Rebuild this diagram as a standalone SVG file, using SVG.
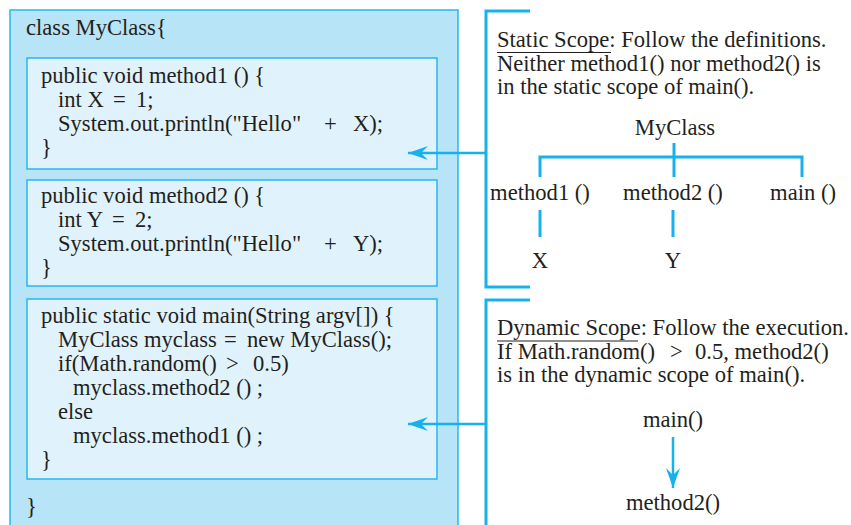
<svg xmlns="http://www.w3.org/2000/svg" width="851" height="525" viewBox="0 0 851 525">
<defs>
<style>
text{font-family:"Liberation Serif","Times New Roman",serif;font-size:22.6px;fill:#231f20}
.mid{text-anchor:middle}
.ln{stroke:#17b1ee;stroke-width:3;fill:none}
.outer{fill:#b8e4f8;stroke:#29b6f0;stroke-width:1.5}
.inner{fill:#e0f3fc;stroke:#29b6f0;stroke-width:1.5}
.ul{stroke:#231f20;stroke-width:1.2}
</style>
<marker id="ah" viewBox="0 0 20 14" refX="20" refY="7" markerWidth="20" markerHeight="14" markerUnits="userSpaceOnUse" orient="auto">
<path d="M20,7 L0,0 L7,7 L0,14 Z" fill="#17b1ee"/>
</marker>
</defs>
<g id="classbox">
<rect class="outer" x="10" y="10" width="448" height="530"/>
<text x="26" y="35">class MyClass{</text>
<text x="26" y="514">}</text>
</g>
<g id="method1">
<rect class="inner" x="27" y="58" width="410" height="111"/>
<text x="41" y="83">public void method1 () {</text>
<text x="58" y="107">int X <tspan x="113">=</tspan><tspan x="136">1;</tspan></text>
<text x="58" y="131">System.out.println("Hello"<tspan x="324">+</tspan><tspan x="353">X);</tspan></text>
<text x="41" y="155">}</text>
</g>
<g id="method2">
<rect class="inner" x="27" y="180" width="410" height="106"/>
<text x="41" y="203">public void method2 () {</text>
<text x="58" y="227">int Y <tspan x="112">=</tspan><tspan x="135">2;</tspan></text>
<text x="58" y="251">System.out.println("Hello"<tspan x="324">+</tspan><tspan x="353">Y);</tspan></text>
<text x="41" y="275">}</text>
</g>
<g id="main">
<rect class="inner" x="27" y="299" width="410" height="180"/>
<text x="41" y="323">public static void main(String argv[]) {</text>
<text x="58" y="347">MyClass myclass <tspan x="224">=</tspan><tspan x="247">new MyClass();</tspan></text>
<text x="58" y="371">if(Math.random() <tspan x="226">&gt;</tspan><tspan x="253">0.5)</tspan></text>
<text x="73" y="395">myclass.method2 () ;</text>
<text x="58" y="419">else</text>
<text x="73" y="443">myclass.method1 () ;</text>
<text x="41" y="467">}</text>
</g>
<g id="static-scope">
<text x="497" y="47">Static Scope: Follow the definitions.</text>
<line class="ul" x1="497" y1="52.5" x2="611" y2="52.5"/>
<text x="497" y="71">Neither method1() nor method2() is</text>
<text x="497" y="94">in the static scope of main().</text>
</g>
<g id="tree-myclass"><text class="mid" x="675" y="135">MyClass</text></g>
<g id="tree-method1"><text class="mid" x="540" y="200">method1 ()</text></g>
<g id="tree-method2"><text class="mid" x="673" y="200">method2 ()</text></g>
<g id="tree-main"><text class="mid" x="803" y="200">main ()</text></g>
<g id="tree-x"><text class="mid" x="540" y="268">X</text></g>
<g id="tree-y"><text class="mid" x="673" y="268">Y</text></g>
<g id="dynamic-scope">
<text x="497" y="335">Dynamic Scope: Follow the execution.</text>
<line class="ul" x1="497" y1="341" x2="638" y2="341"/>
<text x="497" y="359">If Math.random() <tspan x="670">&gt;</tspan><tspan x="695">0.5, method2()</tspan></text>
<text x="497" y="382">is in the dynamic scope of main().</text>
</g>
<g id="dyn-main"><text class="mid" x="673" y="427">main()</text></g>
<g id="dyn-method2"><text class="mid" x="673" y="510">method2()</text></g>
<g id="connectors">
<path class="ln" d="M530,11 H486 V287 H530"/>
<path class="ln" d="M530,300 H486 V530"/>
<line class="ln" x1="486" y1="153" x2="408" y2="153" marker-end="url(#ah)" style="stroke-width:2.5"/>
<line class="ln" x1="486" y1="424" x2="408" y2="424" marker-end="url(#ah)" style="stroke-width:2.5"/>
<path class="ln" d="M674,143 V177 M540,177 V157 H802 V177"/>
<line class="ln" x1="540" y1="210" x2="540" y2="237"/>
<line class="ln" x1="673" y1="210" x2="673" y2="237"/>
<line class="ln" x1="673" y1="437" x2="673" y2="488" marker-end="url(#ah)" style="stroke-width:2.5"/>
</g>
</svg>
